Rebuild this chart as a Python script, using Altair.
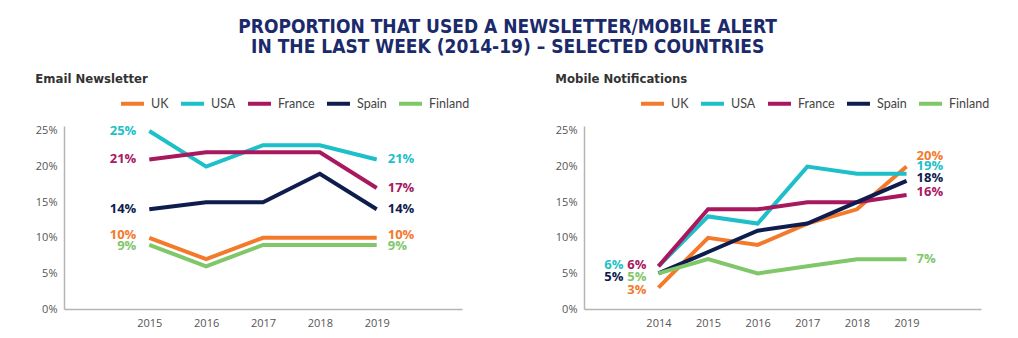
import altair as alt
import pandas as pd

countries = ["UK", "USA", "France", "Spain", "Finland"]
colors = ["#F47A2B", "#1DBFC9", "#A8185F", "#0E1C4E", "#80C76A"]

email_years = [2015, 2016, 2017, 2018, 2019]
email_uk = [10, 7, 10, 10, 10]
email_usa = [25, 20, 23, 23, 21]
email_france = [21, 22, 22, 22, 17]
email_spain = [14, 15, 15, 19, 14]
email_finland = [9, 6, 9, 9, 9]

mobile_years = [2014, 2015, 2016, 2017, 2018, 2019]
mobile_uk = [3, 10, 9, 12, 14, 20]
mobile_usa = [6, 13, 12, 20, 19, 19]
mobile_france = [6, 14, 14, 15, 15, 16]
mobile_spain = [5, 8, 11, 12, 15, 18]
mobile_finland = [5, 7, 5, 6, 7, 7]

y_ticks = [0, 5, 10, 15, 20, 25]

TITLE_FONT = "DejaVu Sans Condensed"
LABEL_FONT = "Open Sans"


def long_df(years, series):
    rows = []
    for c, vals in zip(countries, series):
        for yr, v in zip(years, vals):
            rows.append({"country": c, "year": yr, "value": v, "label": f"{v}%"})
    return pd.DataFrame(rows)


df_email = long_df(email_years, [email_uk, email_usa, email_france, email_spain, email_finland])
df_mobile = long_df(mobile_years, [mobile_uk, mobile_usa, mobile_france, mobile_spain, mobile_finland])

color_scale = alt.Scale(domain=countries, range=colors)


def panel(df, years, xdomain, title, first_offsets, last_offsets, width):
    x = alt.X("year:Q", scale=alt.Scale(domain=xdomain, nice=False, zero=False),
              axis=alt.Axis(values=years, format="d", title=None, labelPadding=8))
    y = alt.Y("value:Q", scale=alt.Scale(domain=[0, 25.7], nice=False),
              axis=alt.Axis(values=y_ticks, labelExpr="datum.value + '%'", title=None, labelPadding=7))
    lines = alt.Chart(df).mark_line(strokeWidth=4).encode(
        x=x, y=y,
        color=alt.Color("country:N", scale=color_scale, legend=alt.Legend(title=None)),
    )
    layers = [lines]
    first_year, last_year = years[0], years[-1]
    for c in countries:
        dx, dy = first_offsets[c]
        d = df[(df.country == c) & (df.year == first_year)]
        layers.append(alt.Chart(d).mark_text(align="right", baseline="middle", dx=dx, dy=dy,
                                             font=LABEL_FONT, fontWeight="bold", fontSize=13).encode(
            x=x, y=y, text="label:N",
            color=alt.Color("country:N", scale=color_scale, legend=None)))
        dx, dy = last_offsets[c]
        d = df[(df.country == c) & (df.year == last_year)]
        layers.append(alt.Chart(d).mark_text(align="left", baseline="middle", dx=dx, dy=dy,
                                             font=LABEL_FONT, fontWeight="bold", fontSize=13).encode(
            x=x, y=y, text="label:N",
            color=alt.Color("country:N", scale=color_scale, legend=None)))
    return alt.layer(*layers).properties(
        width=width, height=183,
        title=alt.TitleParams(text=title, anchor="start", font=TITLE_FONT, fontSize=13,
                              fontWeight="bold", color="#333333", offset=4),
    )


left = panel(df_email, email_years, [2013.5, 2020.5], "Email Newsletter",
             {"UK": (-13, -3), "USA": (-13, 0), "France": (-13, 0), "Spain": (-13, 0), "Finland": (-13, 1)},
             {"UK": (11, -3), "USA": (11, 0), "France": (11, 0), "Spain": (11, 0), "Finland": (11, 1)},
             398)
right = panel(df_mobile, mobile_years, [2012.5, 2020.5], "Mobile Notifications",
              {"UK": (-12, 2), "USA": (-35, -1), "France": (-12, -1), "Spain": (-35, 4), "Finland": (-12, 4)},
              {"UK": (10, -11), "USA": (10, -8), "France": (10, -3), "Spain": (10, -3), "Finland": (10, 0)},
              397)

chart = alt.hconcat(left, right, spacing=122, bounds="flush").resolve_scale(x="independent").resolve_legend(
    color="independent"
).properties(
    title=alt.TitleParams(
        text=["PROPORTION THAT USED A NEWSLETTER/MOBILE ALERT",
              "IN THE LAST WEEK (2014-19) – SELECTED COUNTRIES"],
        anchor="middle", font=TITLE_FONT, fontSize=19, fontWeight="bold",
        color="#1B2A6B", lineHeight=20, offset=16, dx=-5),
    padding={"left": 35, "top": 18, "right": 5, "bottom": 0},
).configure_view(stroke=None).configure_axis(
    grid=False, ticks=False, domainColor="#B5B5B5", domainWidth=1.5,
    labelFont=LABEL_FONT, labelFontSize=11, labelColor="#555555",
).configure_legend(
    orient="none", legendX=55, legendY=-36, direction="horizontal", columns=5,
    symbolType="stroke", symbolSize=529, symbolStrokeWidth=4,
    labelFont="Lato", labelFontSize=12.5, labelColor="#444444",
    columnPadding=4, labelOffset=5, padding=0,
)

chart.save("out.html", embed_options={"renderer": "svg", "actions": False})
